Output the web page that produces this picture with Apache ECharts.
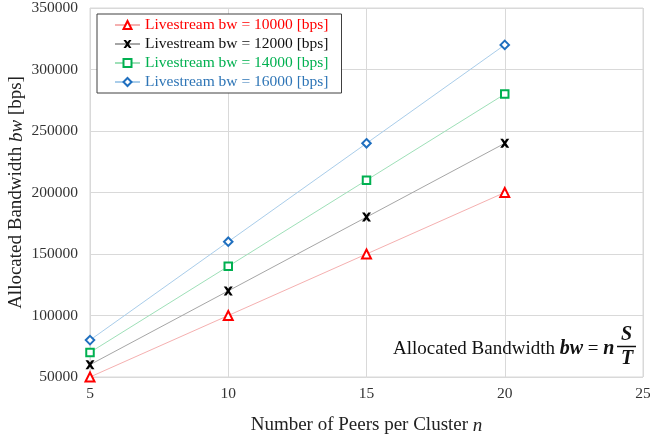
<!DOCTYPE html>
<html>
<head>
<meta charset="utf-8">
<script src="https://cdn.jsdelivr.net/npm/echarts@6/dist/echarts.min.js"></script>
<style>
  html, body { margin: 0; padding: 0; background: #fff; }
  #main { width: 650px; height: 443px; }
</style>
</head>
<body>
<div id="main"></div>
<script>
// peers per cluster n
const peers = [5, 10, 15, 20]
const names = [
  'Livestream bw = 10000 [bps]',
  'Livestream bw = 12000 [bps]',
  'Livestream bw = 14000 [bps]',
  'Livestream bw = 16000 [bps]'
]
const bw10000 = [50000, 100000, 150000, 200000]
const bw12000 = [60000, 120000, 180000, 240000]
const bw14000 = [70000, 140000, 210000, 280000]
const bw16000 = [80000, 160000, 240000, 320000]

const serif = '"Liberation Serif", "DejaVu Serif", serif'
const xMark = 'path://M0,0 L3,0 L5,2.6 L7,0 L10,0 L6.6,5 L10,10 L7,10 L5,7.4 L3,10 L0,10 L3.4,5 Z'

const styles = [
  { text: '#ff0000', line: '#f5b0b0', mark: '#ff0000', symbol: 'triangle', size: 9, fill: '#fff' },
  { text: '#111111', line: '#a6a6a6', mark: '#000000', symbol: xMark, size: 9, fill: '#000' },
  { text: '#00b050', line: '#9ee0b8', mark: '#00b050', symbol: 'rect', size: 7.5, fill: '#fff' },
  { text: '#2e75b6', line: '#a9cdea', mark: '#1f6fbf', symbol: 'diamond', size: 8.5, fill: '#fff' }
]
const allData = [bw10000, bw12000, bw14000, bw16000]

const chart = echarts.init(document.getElementById('main'))

const series = allData.map((vals, i) => {
  const s = styles[i]
  return {
    name: names[i],
    type: 'line',
    data: vals.map((v, j) => [peers[j], v]),
    symbol: s.symbol,
    symbolSize: s.size,
    clip: false,
    lineStyle: { color: s.line, width: 1 },
    itemStyle: {
      color: s.fill,
      borderColor: s.mark,
      borderWidth: s.fill === '#fff' ? 2 : 0
    },
    z: 3 + i
  }
})

const nameStyle = {
  fontFamily: serif, fontSize: 19, color: '#222',
  rich: { i: { fontFamily: serif, fontSize: 19, fontStyle: 'italic', color: '#222' } }
}

const option = {
  animation: false,
  backgroundColor: '#fff',
  textStyle: { fontFamily: serif },
  grid: {
    left: 90, right: 7, top: 8, bottom: 66,
    outerBoundsMode: 'none',
    show: true, borderColor: '#d9d9d9', borderWidth: 1
  },
  legend: {
    orient: 'vertical',
    left: 97,
    top: 14,
    itemWidth: 25,
    itemHeight: 10,
    itemGap: 3,
    padding: [3, 13, 3, 17],
    backgroundColor: '#fff',
    borderColor: '#404040',
    borderWidth: 1,
    borderRadius: 0,
    textStyle: { fontFamily: serif, fontSize: 15.5 },
    data: names.map((n, i) => ({ name: n, textStyle: { color: styles[i].text } }))
  },
  xAxis: {
    type: 'value',
    min: 5,
    max: 25,
    interval: 5,
    name: 'Number of Peers per Cluster {i|n}',
    nameLocation: 'middle',
    nameGap: 39,
    nameMoveOverlap: false,
    nameTextStyle: nameStyle,
    axisLine: { show: false },
    axisTick: { show: false },
    axisLabel: { color: '#333', fontFamily: serif, fontSize: 15.5, margin: 9 },
    splitLine: { lineStyle: { color: '#d9d9d9', width: 1 } }
  },
  yAxis: {
    type: 'value',
    min: 50000,
    max: 350000,
    interval: 50000,
    name: 'Allocated Bandwidth {i|bw} [bps]',
    nameLocation: 'middle',
    nameGap: 64,
    nameMoveOverlap: false,
    nameTextStyle: nameStyle,
    axisLine: { show: false },
    axisTick: { show: false },
    axisLabel: { color: '#333', fontFamily: serif, fontSize: 15.5, margin: 12, formatter: v => String(v) },
    splitLine: { lineStyle: { color: '#d9d9d9', width: 1 } }
  },
  graphic: [
    {
      type: 'text',
      left: 393,
      top: 339,
      z: 10,
      style: {
        text: 'Allocated Bandwidth {b|bw} = {b|n}',
        font: '19px "Liberation Serif", serif',
        fill: '#111',
        rich: { b: { fontFamily: serif, fontSize: 20, fontWeight: 'bold', fontStyle: 'italic', fill: '#111' } }
      }
    },
    {
      type: 'text', left: 621, top: 325, z: 10,
      style: { text: 'S', font: 'italic bold 20px "Liberation Serif", serif', fill: '#111' }
    },
    {
      type: 'line', z: 10,
      shape: { x1: 617, y1: 346.5, x2: 636, y2: 346.5 },
      style: { stroke: '#111', lineWidth: 1.5 }
    },
    {
      type: 'text', left: 621, top: 349, z: 10,
      style: { text: 'T', font: 'italic bold 20px "Liberation Serif", serif', fill: '#111' }
    }
  ],
  series: series
}

chart.setOption(option)
</script>
</body>
</html>
